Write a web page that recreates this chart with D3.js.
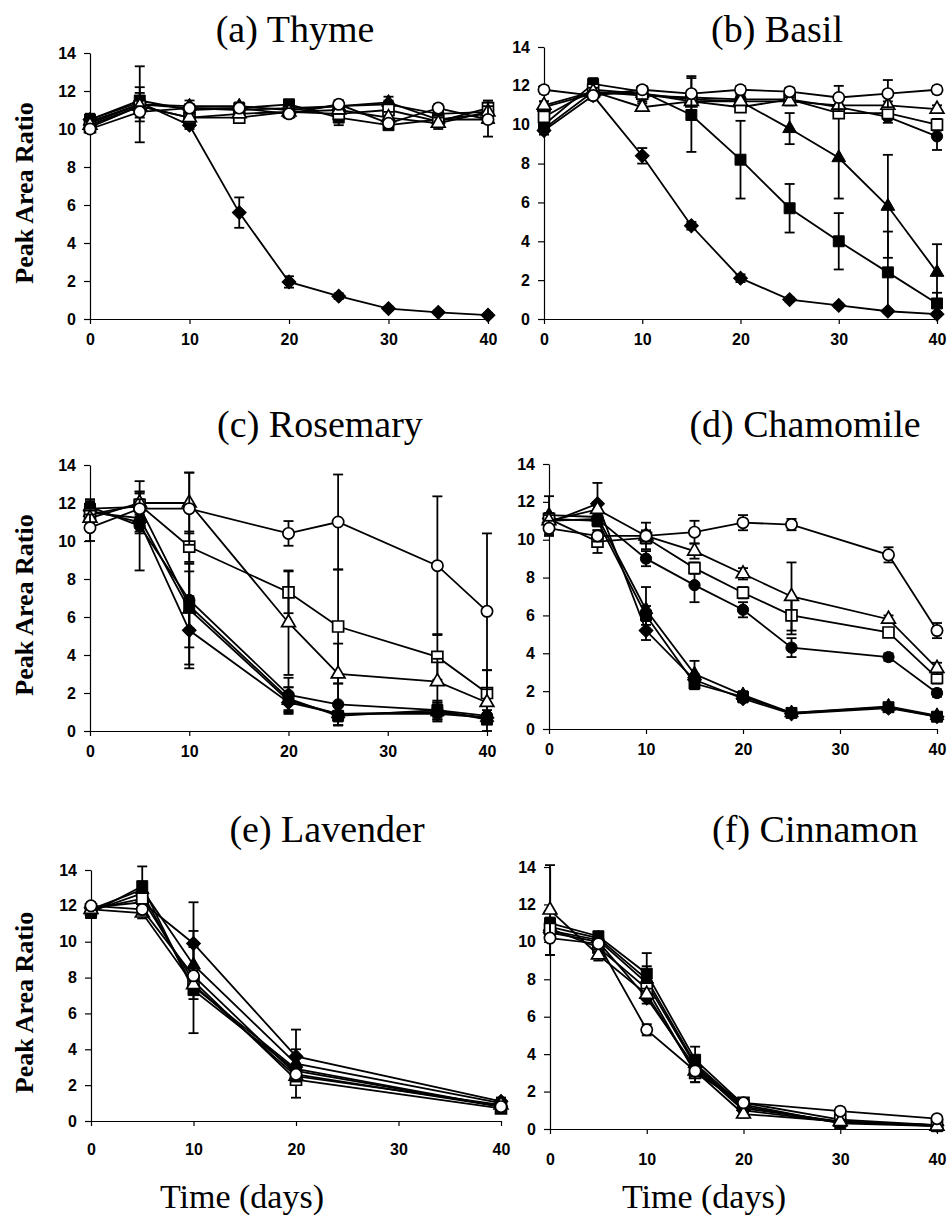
<!DOCTYPE html>
<html>
<head>
<meta charset="utf-8">
<script src="https://cdn.jsdelivr.net/npm/d3@7"></script>
<style>
  body { margin: 0; background: #fff; }
  svg { display: block; }
</style>
</head>
<body>
<div id="chart"></div>
<script>
// series order: filled diamond, filled square, filled triangle, filled circle,
// open square, open triangle, open circle
const seriesShapes = ["diamond", "square", "triangle", "circle", "square", "triangle", "circle"];
const seriesFilled = [true, true, true, true, false, false, false];

const yTicks = [0, 2, 4, 6, 8, 10, 12, 14];
const xTicks = [0, 10, 20, 30, 40];
const panelTitles = ["(a) Thyme", "(b) Basil", "(c) Rosemary", "(d) Chamomile", "(e) Lavender", "(f) Cinnamon"];
const yLabel = "Peak Area Ratio";
const xLabel = "Time (days)";

// (a) Thyme
const thymeDays = [0, 5, 10, 15, 20, 25, 30, 35, 40];
const thymeMeans = [
  [10.5, 11.4, 10.2, 5.6, 1.95, 1.2, 0.55, 0.35, 0.2],
  [10.5, 11.5, 11.0, 11.1, 11.3, 10.6, 10.2, 10.5, 10.8],
  [10.4, 11.3, 11.2, 11.2, 11.0, 11.2, 11.4, 10.5, 10.5],
  [10.3, 11.3, 11.1, 11.0, 11.1, 11.2, 11.3, 10.8, 10.9],
  [10.1, 11.2, 10.6, 10.6, 10.9, 10.8, 11.0, 10.4, 11.1],
  [10.2, 11.2, 10.6, 10.8, 10.9, 11.0, 10.6, 10.3, 10.9],
  [10.0, 10.9, 11.1, 11.1, 10.8, 11.3, 10.3, 11.1, 10.5]
];
const thymeErrors = [
  [0.3, 0.3, 0.2, 0.8, 0.3, 0.15, 0.1, 0.1, 0.1],
  [0.3, 0.4, 0.2, 0.2, 0.2, 0.4, 0.2, 0.3, 0.3],
  [0.2, 2.0, 0.3, 0.2, 0.2, 0.3, 0.3, 0.2, 0.2],
  [0.2, 0.9, 0.2, 0.2, 0.2, 0.2, 0.2, 0.2, 0.2],
  [0.2, 0.3, 0.2, 0.2, 0.2, 0.2, 0.3, 0.3, 0.4],
  [0.2, 0.3, 0.2, 0.2, 0.2, 0.2, 0.3, 0.3, 0.3],
  [0.2, 0.3, 0.2, 0.2, 0.2, 0.2, 0.2, 0.2, 0.9]
];

// (b) Basil
const basilDays = [0, 5, 10, 15, 20, 25, 30, 35, 40];
const basilMeans = [
  [9.7, 11.5, 8.4, 4.8, 2.1, 1.0, 0.7, 0.4, 0.25],
  [10.0, 12.1, 11.7, 10.5, 8.2, 5.7, 4.0, 2.4, 0.8],
  [10.9, 11.6, 11.6, 11.3, 11.2, 9.8, 8.3, 5.8, 2.4],
  [9.8, 11.7, 11.5, 11.4, 11.3, 11.3, 10.9, 10.4, 9.4],
  [10.4, 11.8, 11.6, 11.2, 10.9, 11.3, 10.6, 10.6, 10.0],
  [11.0, 11.7, 10.9, 11.2, 11.2, 11.2, 11.0, 11.0, 10.8],
  [11.8, 11.5, 11.8, 11.6, 11.8, 11.7, 11.4, 11.6, 11.8]
];
const basilErrors = [
  [0.2, 0.2, 0.4, 0.2, 0.2, 0.1, 0.1, 0.1, 0.1],
  [0.3, 0.3, 0.3, 1.9, 2.0, 1.25, 1.45, 2.1, 0.55],
  [0.3, 0.3, 0.3, 0.3, 0.3, 0.8, 2.1, 2.65, 1.45],
  [0.3, 0.3, 0.3, 0.3, 0.3, 0.3, 0.3, 0.3, 0.7],
  [0.3, 0.2, 0.2, 0.2, 0.2, 0.2, 0.2, 0.3, 0.3],
  [0.2, 0.2, 0.2, 0.2, 0.2, 0.2, 0.3, 0.2, 0.2],
  [0.2, 0.2, 0.2, 0.9, 0.2, 0.2, 0.6, 0.7, 0.2]
];

// (c) Rosemary
const rosemaryDays = [0, 5, 10, 20, 25, 35, 40];
const rosemaryMeans = [
  [11.6, 11.0, 5.3, 1.5, 0.9, 0.9, 0.7],
  [11.7, 11.8, 6.6, 1.7, 0.8, 1.1, 0.6],
  [11.5, 11.2, 6.4, 1.6, 0.9, 1.0, 0.7],
  [11.8, 10.8, 6.9, 1.9, 1.4, 1.1, 0.8],
  [11.4, 11.9, 9.7, 7.3, 5.5, 3.9, 2.0],
  [11.2, 12.0, 12.0, 5.7, 3.0, 2.6, 1.5],
  [10.7, 11.7, 11.7, 10.4, 11.0, 8.7, 6.3]
];
const rosemaryErrors = [
  [0.4, 0.5, 1.8, 0.5, 0.4, 0.3, 0.2],
  [0.4, 0.8, 2.2, 0.6, 0.5, 0.4, 0.2],
  [0.3, 0.8, 3.1, 0.7, 0.6, 0.5, 0.2],
  [0.4, 2.35, 1.5, 0.9, 1.1, 0.5, 0.3],
  [0.3, 0.6, 0.8, 1.1, 3.0, 1.2, 1.2],
  [0.4, 0.6, 1.6, 2.75, 1.6, 1.2, 1.7],
  [0.7, 0.5, 1.9, 0.65, 2.5, 3.65, 4.1]
];

// (d) Chamomile
const chamomileDays = [0, 5, 10, 15, 20, 25, 35, 40];
const chamomileMeans = [
  [10.9, 11.9, 5.2, 2.6, 1.6, 0.8, 1.1, 0.65],
  [11.1, 11.0, 6.0, 2.4, 1.7, 0.85, 1.15, 0.65],
  [11.3, 11.2, 6.3, 2.9, 1.8, 0.85, 1.2, 0.7],
  [11.0, 11.1, 9.0, 7.6, 6.3, 4.3, 3.8, 1.9],
  [11.1, 9.9, 10.1, 8.5, 7.2, 6.0, 5.1, 2.7],
  [11.0, 11.6, 10.2, 9.4, 8.2, 7.0, 5.8, 3.2],
  [10.6, 10.2, 10.2, 10.4, 10.9, 10.8, 9.2, 5.2]
];
const chamomileErrors = [
  [0.4, 1.1, 0.5, 0.3, 0.2, 0.1, 0.1, 0.1],
  [0.3, 0.3, 0.5, 0.3, 0.2, 0.1, 0.1, 0.1],
  [1.0, 0.4, 1.2, 0.7, 0.2, 0.1, 0.1, 0.1],
  [0.3, 0.3, 0.4, 0.9, 0.4, 0.5, 0.2, 0.2],
  [0.3, 0.6, 0.3, 0.3, 0.3, 1.0, 0.2, 0.3],
  [0.3, 0.4, 0.3, 0.4, 0.3, 1.8, 0.2, 0.3],
  [0.4, 0.3, 0.7, 0.6, 0.4, 0.3, 0.4, 0.4]
];

// (e) Lavender
const lavenderDays = [0, 5, 10, 20, 40];
const lavenderMeans = [
  [11.9, 12.2, 9.9, 3.6, 1.1],
  [11.6, 13.1, 7.3, 2.8, 0.8],
  [11.8, 12.9, 8.7, 3.2, 1.0],
  [11.7, 12.7, 7.5, 2.9, 0.8],
  [11.8, 12.4, 7.8, 2.3, 0.7],
  [11.8, 11.6, 7.6, 2.5, 0.9],
  [12.0, 11.8, 8.1, 2.6, 0.8]
];
const lavenderErrors = [
  [0.2, 0.3, 2.3, 0.4, 0.2],
  [0.2, 1.1, 2.4, 0.3, 0.2],
  [0.2, 0.3, 1.9, 1.9, 0.2],
  [0.2, 0.3, 0.3, 0.3, 0.1],
  [0.2, 0.3, 0.4, 0.3, 0.1],
  [0.2, 0.3, 0.4, 0.3, 0.4],
  [0.2, 0.3, 0.3, 0.3, 0.2]
];

// (f) Cinnamon
const cinnamonDays = [0, 5, 10, 15, 20, 30, 40];
const cinnamonMeans = [
  [10.5, 10.0, 7.0, 3.3, 1.0, 0.35, 0.2],
  [11.0, 10.3, 8.3, 3.7, 1.3, 0.3, 0.15],
  [10.8, 10.2, 8.0, 3.5, 1.2, 0.35, 0.2],
  [10.6, 10.1, 7.8, 3.4, 1.1, 0.4, 0.2],
  [10.7, 9.7, 7.5, 3.0, 1.4, 0.5, 0.2],
  [11.7, 9.3, 7.2, 3.1, 0.8, 0.4, 0.15],
  [10.2, 9.9, 5.3, 3.1, 1.4, 0.95, 0.55]
];
const cinnamonErrors = [
  [0.3, 0.2, 0.3, 0.3, 0.1, 0.1, 0.05],
  [0.3, 0.2, 1.1, 0.7, 0.2, 0.1, 0.05],
  [0.3, 0.2, 0.7, 0.3, 0.2, 0.1, 0.05],
  [0.3, 0.2, 0.3, 0.3, 0.2, 0.1, 0.05],
  [0.3, 0.3, 0.3, 0.5, 0.2, 0.2, 0.05],
  [2.4, 0.3, 0.3, 0.6, 0.2, 0.1, 0.05],
  [0.9, 0.2, 0.3, 0.3, 0.2, 0.2, 0.1]
];

const panelDays = [thymeDays, basilDays, rosemaryDays, chamomileDays, lavenderDays, cinnamonDays];
const panelMeans = [thymeMeans, basilMeans, rosemaryMeans, chamomileMeans, lavenderMeans, cinnamonMeans];
const panelErrors = [thymeErrors, basilErrors, rosemaryErrors, chamomileErrors, lavenderErrors, cinnamonErrors];

// plot frames in page pixels (the scanned panels are not all the same size)
const frames = [
  { left: 90, right: 488, top: 53, bottom: 319, titleX: 295, titleY: 42, pad: 10 },
  { left: 544, right: 937, top: 47, bottom: 319, titleX: 777, titleY: 42, pad: 10 },
  { left: 90, right: 487, top: 465, bottom: 731, titleX: 320, titleY: 437, pad: 10 },
  { left: 549, right: 937, top: 464, bottom: 729, titleX: 805, titleY: 437, pad: 10 },
  { left: 91, right: 501, top: 870, bottom: 1121, titleX: 327, titleY: 842, pad: 18 },
  { left: 550, right: 937, top: 867, bottom: 1129, titleX: 815, titleY: 842, pad: 20 }
];

const width = 948, height = 1216;
const serif = "'Liberation Serif', 'Times New Roman', serif";
const sans = "'Liberation Sans', Arial, sans-serif";

const svg = d3.select("#chart").append("svg")
  .attr("width", width)
  .attr("height", height);

const symbolFor = {
  circle: d3.symbol(d3.symbolCircle, 100)(),
  square: d3.symbol(d3.symbolSquare, 120)(),
  triangle: d3.symbol(d3.symbolTriangle, 82)(),
  diamond: d3.symbol(d3.symbolSquare, 96)()
};

frames.forEach((f, p) => {
  const x = d3.scaleLinear().domain([0, 40]).range([f.left, f.right]);
  const y = d3.scaleLinear().domain([0, 14]).range([f.bottom, f.top]);
  const g = svg.append("g").attr("class", "panel");

  g.append("text")
    .attr("x", f.titleX)
    .attr("y", f.titleY)
    .attr("text-anchor", "middle")
    .style("font-family", serif)
    .style("font-size", "38px")
    .text(panelTitles[p]);

  const yAxis = g.append("g")
    .attr("transform", `translate(${f.left},0)`)
    .call(d3.axisLeft(y).tickValues(yTicks).tickSize(6).tickSizeOuter(0).tickPadding(8));
  const xAxis = g.append("g")
    .attr("transform", `translate(0,${f.bottom})`)
    .call(d3.axisBottom(x).tickValues(xTicks).tickSize(5).tickSizeOuter(0).tickPadding(f.pad));
  [yAxis, xAxis].forEach(a => {
    a.select(".domain").attr("stroke", "#000").attr("stroke-width", 1.2);
    a.selectAll(".tick line").attr("stroke", "#000").attr("stroke-width", 1.2);
    a.selectAll(".tick text")
      .attr("fill", "#000")
      .style("font-family", sans)
      .style("font-weight", "bold")
      .style("font-size", "16px");
  });

  if (p % 2 === 0) {
    const cy = (f.top + f.bottom) / 2 + 7;
    g.append("text")
      .attr("transform", `translate(33,${cy}) rotate(-90)`)
      .attr("text-anchor", "middle")
      .style("font-family", serif)
      .style("font-weight", "bold")
      .style("font-size", "26px")
      .text(yLabel);
  }
  if (p >= 4) {
    g.append("text")
      .attr("x", p === 4 ? 242 : 704)
      .attr("y", 1208)
      .attr("text-anchor", "middle")
      .style("font-family", serif)
      .style("font-size", "34px")
      .text(xLabel);
  }

  const days = panelDays[p];
  const line = d3.line().x((d, i) => x(days[i])).y(d => y(d));

  panelMeans[p].forEach((vals, s) => {
    const errs = panelErrors[p][s];
    const sg = g.append("g").attr("class", "series");

    sg.append("path")
      .attr("d", line(vals))
      .attr("fill", "none")
      .attr("stroke", "#000")
      .attr("stroke-width", 1.8);

    const eb = sg.selectAll(".err").data(vals).enter().append("g").attr("class", "err");
    eb.append("line")
      .attr("x1", (d, i) => x(days[i])).attr("x2", (d, i) => x(days[i]))
      .attr("y1", (d, i) => y(Math.max(0, d - errs[i])))
      .attr("y2", (d, i) => y(d + errs[i]))
      .attr("stroke", "#000").attr("stroke-width", 1.8);
    eb.append("line")
      .attr("x1", (d, i) => x(days[i]) - 5).attr("x2", (d, i) => x(days[i]) + 5)
      .attr("y1", (d, i) => y(d + errs[i])).attr("y2", (d, i) => y(d + errs[i]))
      .attr("stroke", "#000").attr("stroke-width", 1.8);
    eb.append("line")
      .attr("x1", (d, i) => x(days[i]) - 5).attr("x2", (d, i) => x(days[i]) + 5)
      .attr("y1", (d, i) => y(Math.max(0, d - errs[i]))).attr("y2", (d, i) => y(Math.max(0, d - errs[i])))
      .attr("stroke", "#000").attr("stroke-width", 1.8);

    const shape = seriesShapes[s];
    sg.selectAll(".mark").data(vals).enter().append("path")
      .attr("class", "mark")
      .attr("d", symbolFor[shape])
      .attr("transform", (d, i) => `translate(${x(days[i])},${y(d)})` + (shape === "diamond" ? " rotate(45)" : ""))
      .attr("fill", seriesFilled[s] ? "#000" : "#fff")
      .attr("stroke", "#000")
      .attr("stroke-width", seriesFilled[s] ? 1 : 1.7);
  });
});
</script>
</body>
</html>
